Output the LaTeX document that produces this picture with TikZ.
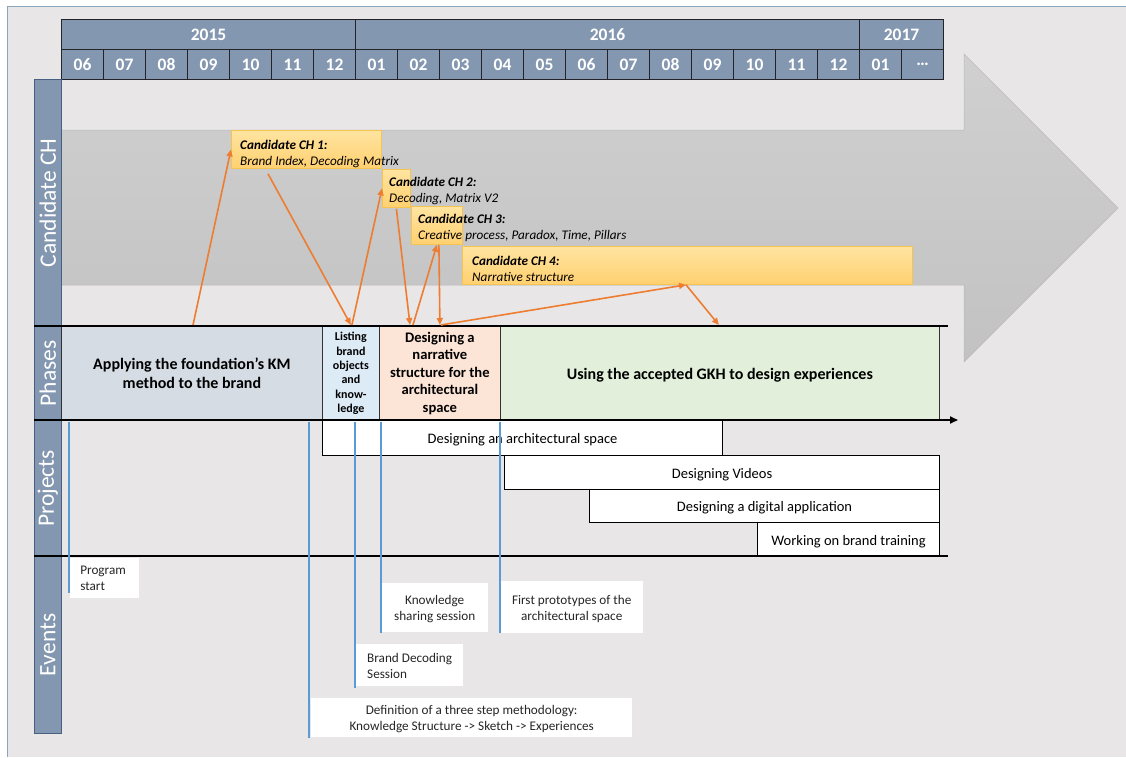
\documentclass[tikz,border=0pt]{standalone}
\usepackage{fontspec}
\setmainfont{Carlito}
\usetikzlibrary{arrows.meta,calc}
\definecolor{bg}{RGB}{232,230,230}
\definecolor{frameblue}{RGB}{140,165,190}
\definecolor{hdr}{RGB}{132,151,176}
\definecolor{hdrline}{RGB}{35,35,40}
\definecolor{lblline}{RGB}{70,95,130}
\definecolor{arrgrayA}{RGB}{208,208,208}
\definecolor{arrgrayB}{RGB}{194,194,194}
\definecolor{arrgrayL}{RGB}{185,185,185}
\definecolor{chA}{RGB}{255,228,160}
\definecolor{chB}{RGB}{255,208,112}
\definecolor{chline}{RGB}{245,195,80}
\definecolor{ph1}{RGB}{214,220,228}
\definecolor{ph2}{RGB}{221,235,247}
\definecolor{ph3}{RGB}{252,228,214}
\definecolor{ph4}{RGB}{226,239,218}
\definecolor{orangeA}{RGB}{237,125,49}
\definecolor{evblue}{RGB}{91,155,213}
\definecolor{evtext}{RGB}{38,38,38}
\tikzset{
  hdrcell/.style={draw=hdrline, line width=1.2pt, fill=hdr, text=white,
    font=\fontsize{17.5}{20}\selectfont\bfseries, minimum height=30pt,
    inner sep=0pt, anchor=north west},
  lblbox/.style={draw=lblline, line width=0.8pt, fill=hdr, minimum width=27pt,
    inner sep=0pt, anchor=north west},
  lbltext/.style={text=white, rotate=90, inner sep=0pt,
    font=\fontsize{23.5}{28}\selectfont},
  chbox/.style={draw=chline, line width=0.8pt, top color=chA, bottom color=chB,
    inner sep=0pt, anchor=north west},
  chtext/.style={align=left, anchor=west, inner sep=0pt,
    font=\fontsize{13.2}{15.8}\selectfont\itshape},
  phasebox/.style={draw=black!80, line width=0.8pt, inner sep=0pt,
    anchor=north west, minimum height=94pt, align=center},
  projbox/.style={draw=black, line width=1.1pt, fill=white, inner sep=0pt,
    anchor=north west, font=\fontsize{14.5}{17}\selectfont,
    text height=11.2pt, text depth=0pt},
  evbox/.style={fill=white, inner sep=0pt, anchor=north west},
  evtxt/.style={inner sep=0pt, text=evtext, font=\fontsize{13.2}{16}\selectfont},
  evline/.style={draw=evblue, line width=1.4pt},
  orarrow/.style={draw=orangeA, line width=1.6pt,
    -{Triangle[length=7pt,width=6pt]}},
}
\begin{document}
\begin{tikzpicture}[x=1pt,y=-1pt]
\useasboundingbox (0,0) rectangle (1126,757);
\fill[white] (0,0) rectangle (1126,757);
\fill[bg] (7,7) rectangle (1126,757);
\draw[frameblue, line width=1pt] (7,757) -- (7,7) -- (1126,7);

% big gray arrow
\path[draw=arrgrayL, line width=0.5pt, top color=arrgrayA, bottom color=arrgrayB]
  (61,130) -- (964,130) -- (964,54) -- (1118,208) -- (964,362) -- (964,285) -- (61,285) -- cycle;

% header
\node[hdrcell, minimum width=294pt] (y2015) at (61,19) {2015};
\node[hdrcell, minimum width=504pt] (y2016) at (355,19) {2016};
\node[hdrcell, minimum width=84pt] (y2017) at (859,19) {2017};
\foreach \m [count=\i from 0] in {06,07,08,09,10,11,12,01,02,03,04,05,06,07,08,09,10,11,12,01,…}
  \node[hdrcell, minimum width=42pt] (m\i) at ({61+42*\i},49) {\m};

% left labels
\node[lblbox, minimum height=247pt] (lcand) at (34,79) {};
\node[lblbox, minimum height=94pt] (lphase) at (34,326) {};
\node[lblbox, minimum height=136pt] (lproj) at (34,420) {};
\node[lblbox, minimum height=177pt] (levent) at (34,556) {};
\node[lbltext] (tcand) at (lcand.center) {Candidate CH};
\node[lbltext] (tphase) at (lphase.center) {Phases};
\node[lbltext] (tproj) at (lproj.center) {Projects};
\node[lbltext] (tevent) at (levent.center) {Events};

% candidate CH boxes
\node[chbox, minimum width=150pt, minimum height=38pt] (ch1) at (231,130) {};
\node[chbox, minimum width=28pt, minimum height=38pt] (ch2) at (382,169) {};
\node[chbox, minimum width=51pt, minimum height=38pt] (ch3) at (411,206) {};
\node[chbox, minimum width=450pt, minimum height=38pt] (ch4) at (462,246) {};
\node[chtext] (ch1t) at (240,154) {\textbf{Candidate CH 1:}\\Brand Index, Decoding Matrix};
\node[chtext] (ch2t) at (389,191) {\textbf{Candidate CH 2:}\\Decoding, Matrix V2};
\node[chtext] (ch3t) at (418,228) {\textbf{Candidate CH 3:}\\Creative process, Paradox, Time, Pillars};
\node[chtext] (ch4t) at (472,269) {\textbf{Candidate CH 4:}\\Narrative structure};

% phases
\node[phasebox, fill=ph1, minimum width=261pt, font=\fontsize{16}{18.5}\selectfont\bfseries]
  (p1) at (61,326) {Applying the foundation’s KM\\method to the brand};
\node[phasebox, fill=ph2, minimum width=57pt, font=\fontsize{12}{14.4}\selectfont\bfseries]
  (p2) at (322,326) {Listing\\brand\\objects\\and\\know-\\ledge};
\node[phasebox, fill=ph3, minimum width=121pt, font=\fontsize{14.6}{17.6}\selectfont\bfseries]
  (p3) at (379,326) {Designing a\\narrative\\structure for the\\architectural\\space};
\node[phasebox, fill=ph4, minimum width=439pt, font=\fontsize{16}{18.5}\selectfont\bfseries,
  text height=12pt, text depth=0pt]
  (p4) at (500,326) {Using the accepted GKH to design experiences};

% projects
\node[projbox, minimum width=400pt, minimum height=35pt] (pr1) at (322,420) {Designing an architectural space};
\node[projbox, minimum width=435pt, minimum height=34pt] (pr2) at (504,455) {Designing Videos};
\node[projbox, minimum width=350pt, minimum height=33pt] (pr3) at (589,489) {Designing a digital application};
\node[projbox, minimum width=182pt, minimum height=34pt] (pr4) at (757,522) {Working on brand training};

% axis lines
\coordinate (axA) at (34,326); \coordinate (axB) at (948,326);
\coordinate (axC) at (34,420); \coordinate (axD) at (958,420);
\coordinate (axE) at (34,556); \coordinate (axF) at (948,556);
\draw[line width=2pt] (axA) -- (axB);
\draw[line width=2pt, -{Triangle[length=8pt,width=7pt]}] (axC) -- (axD);
\draw[line width=1.6pt] (axE) -- (axF);

% events
\node[evbox, minimum width=69.4pt, minimum height=40pt] (ev1) at (69.6,558) {};
\node[evbox, minimum width=107pt, minimum height=42pt] (ev2) at (355.5,644) {};
\node[evbox, minimum width=106pt, minimum height=49pt] (ev3) at (381.5,583) {};
\node[evbox, minimum width=142pt, minimum height=52pt] (ev4) at (500.5,581) {};
\node[evbox, minimum width=321pt, minimum height=39pt] (ev5) at (311,698) {};
\node[evtxt, align=left, anchor=west] (ev1t) at ($(ev1.west)+(10.5,0.5)$) {Program\\start};
\node[evtxt, align=left, anchor=west] (ev2t) at ($(ev2.west)+(11.5,1)$) {Brand Decoding\\Session};
\node[evtxt, align=center] (ev3t) at ($(ev3.center)+(0,1.5)$) {Knowledge\\sharing session};
\node[evtxt, align=center] (ev4t) at ($(ev4.center)+(0,1.5)$) {First prototypes of the\\architectural space};
\node[evtxt, align=center] (ev5t) at ($(ev5.center)+(0,1.5)$) {Definition of a three step methodology:\\Knowledge Structure -> Sketch -> Experiences};

\coordinate (e1a) at (69,421.5);  \coordinate (e1b) at (69,593);
\coordinate (e2a) at (309,421.5); \coordinate (e2b) at (309,738);
\coordinate (e3a) at (355,421.5); \coordinate (e3b) at (355,688);
\coordinate (e4a) at (381,421.5); \coordinate (e4b) at (381,633);
\coordinate (e5a) at (500,421.5); \coordinate (e5b) at (500,633);
\draw[evline] (e1a) -- (e1b);
\draw[evline] (e2a) -- (e2b);
\draw[evline] (e3a) -- (e3b);
\draw[evline] (e4a) -- (e4b);
\draw[evline] (e5a) -- (e5b);

% orange arrows
\draw[orarrow] ($(p1.north west)+(132,-1)$) -- (ch1.west);
\draw[orarrow] ($(ch1.south west)+(37,5)$) -- ($(p2.north)+(0,-1)$);
\draw[orarrow] ($(p2.north)+(1,-1)$) -- (ch2.west);
\draw[orarrow] ($(ch2.south)+(0,1)$) -- ($(p3.north west)+(31,-1)$);
\draw[orarrow] ($(p3.north west)+(34,-1)$) -- (ch3.south);
\draw[orarrow] ($(ch3.south)+(2,0)$) -- ($(p3.north)+(0,-1)$);
\draw[orarrow] ($(p3.north)+(1,-1)$) -- ($(ch4.south west)+(224,0)$);
\draw[orarrow] ($(ch4.south west)+(224,0)$) -- ($(p4.north)+(-1,-1)$);
\end{tikzpicture}
\end{document}
